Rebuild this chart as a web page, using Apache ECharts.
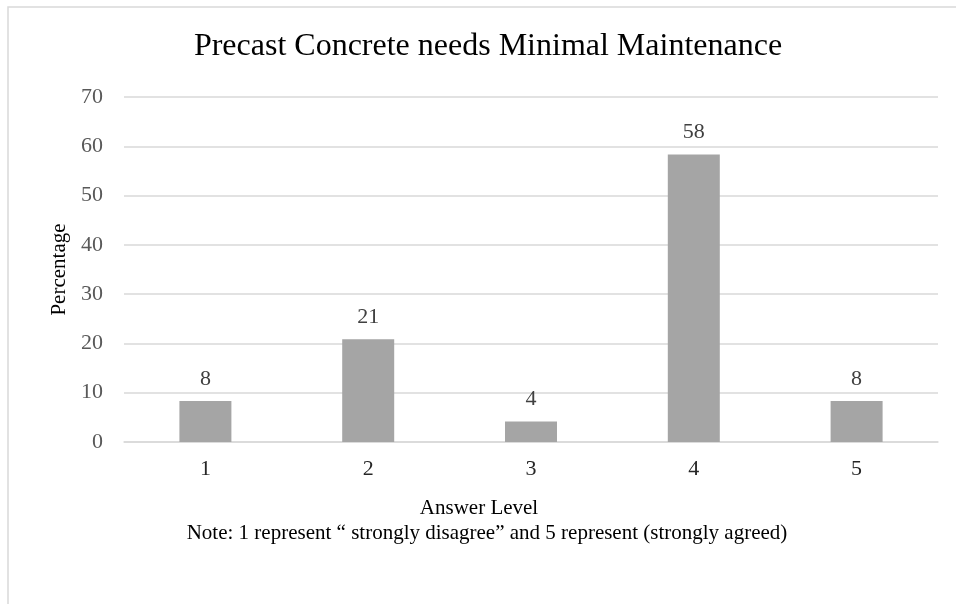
<!DOCTYPE html>
<html>
<head>
<meta charset="utf-8">
<script src="https://cdn.jsdelivr.net/npm/echarts@6/dist/echarts.min.js"></script>
<style>
html, body { margin: 0; padding: 0; background: #fff; }
#chart { width: 956px; height: 604px; }
</style>
</head>
<body>
<div id="chart"></div>
<script>
// answer levels and share of respondents (%)
var levels = ['1', '2', '3', '4', '5'];
var percentages = [8.33, 20.83, 4.17, 58.33, 8.33];
var yTicks = { min: 0, max: 70, step: 10 };

var serif = '"Liberation Serif", "Times New Roman", serif';

var chart = echarts.init(document.getElementById('chart'));
chart.setOption({
    animation: false,
    backgroundColor: '#fff',
    grid: { left: 124, right: 18, top: 97, bottom: 162 },
    xAxis: {
        type: 'category',
        data: levels,
        axisLine: { lineStyle: { color: '#d9d9d9', width: 1.5 } },
        axisTick: { show: false },
        axisLabel: { fontFamily: serif, fontSize: 22, color: '#262626', margin: 16 }
    },
    yAxis: {
        type: 'value',
        min: yTicks.min,
        max: yTicks.max,
        interval: yTicks.step,
        name: 'Percentage',
        nameLocation: 'middle',
        nameGap: 51,
        nameTextStyle: { fontFamily: serif, fontSize: 21, color: '#000' },
        axisLine: { show: false },
        axisTick: { show: false },
        splitLine: { lineStyle: { color: '#d9d9d9', width: 1.5 } },
        axisLabel: { fontFamily: serif, fontSize: 22, color: '#595959', margin: 21 }
    },
    series: [{
        type: 'bar',
        data: percentages,
        barWidth: 52,
        itemStyle: { color: '#a5a5a5' },
        label: {
            show: true,
            position: 'top',
            distance: 11,
            fontFamily: serif,
            fontSize: 22,
            color: '#404040',
            formatter: function (p) { return Math.round(p.value); }
        }
    }],
    graphic: [
        {
            type: 'rect',
            shape: { x: 8, y: 7, width: 1000, height: 700 },
            style: { fill: 'none', stroke: '#d9d9d9', lineWidth: 1.5 },
            silent: true
        },
        {
            type: 'text',
            x: 488,
            y: 47,
            style: {
                text: 'Precast Concrete needs Minimal Maintenance',
                font: '32px ' + serif, fill: '#000',
                textAlign: 'center', textVerticalAlign: 'middle'
            }
        },
        {
            type: 'text',
            x: 479,
            y: 508,
            style: {
                text: 'Answer Level',
                font: '21px ' + serif, fill: '#000',
                textAlign: 'center', textVerticalAlign: 'middle'
            }
        },
        {
            type: 'text',
            x: 487,
            y: 533,
            style: {
                text: 'Note: 1 represent \u201c strongly disagree\u201d and 5 represent (strongly agreed)',
                font: '21px ' + serif, fill: '#000',
                textAlign: 'center', textVerticalAlign: 'middle'
            }
        }
    ]
});
</script>
</body>
</html>
